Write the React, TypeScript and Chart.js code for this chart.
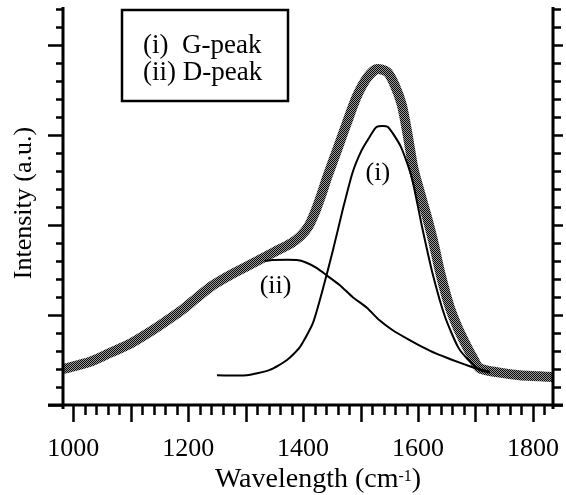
import React, { useEffect, useRef } from 'react';
import { Chart, registerables } from 'chart.js';

Chart.register(...registerables);

// Measured spectrum (thick stippled band)
const MEASURED_X = [982, 1029, 1064, 1099, 1133, 1159, 1186, 1215, 1243, 1272, 1302, 1347, 1380, 1396, 1409, 1420, 1431, 1443, 1459, 1476, 1493, 1511, 1528, 1546, 1559, 1572, 1582, 1592, 1603, 1615, 1626, 1639, 1655, 1669, 1681, 1695, 1707, 1742, 1777, 1812, 1834];
const MEASURED_Y = [0.40, 0.48, 0.58, 0.68, 0.81, 0.92, 1.04, 1.19, 1.33, 1.44, 1.54, 1.69, 1.80, 1.88, 1.98, 2.13, 2.32, 2.55, 2.83, 3.13, 3.42, 3.63, 3.73, 3.70, 3.56, 3.33, 3.00, 2.63, 2.37, 2.10, 1.83, 1.46, 1.09, 0.86, 0.70, 0.53, 0.41, 0.36, 0.33, 0.32, 0.31];

// (i) G-peak fit
const G_PEAK_X = [1250, 1302, 1342, 1372, 1394, 1417, 1434, 1452, 1469, 1486, 1502, 1516, 1528, 1547, 1570, 1589, 1607, 1625, 1647, 1670, 1692, 1708, 1725];
const G_PEAK_Y = [0.33, 0.33, 0.39, 0.50, 0.64, 0.91, 1.28, 1.72, 2.17, 2.58, 2.83, 2.98, 3.09, 3.09, 2.87, 2.53, 1.98, 1.47, 0.98, 0.64, 0.47, 0.39, 0.36];

// (ii) D-peak fit
const D_PEAK_X = [1333, 1347, 1389, 1406, 1424, 1441, 1464, 1486, 1511, 1533, 1556, 1580, 1603, 1632, 1660, 1690, 1704, 1725];
const D_PEAK_Y = [1.60, 1.61, 1.61, 1.58, 1.52, 1.44, 1.33, 1.20, 1.08, 0.94, 0.83, 0.74, 0.66, 0.57, 0.50, 0.43, 0.40, 0.37];

const X_TICK_LABELS = [1000, 1200, 1400, 1600, 1800];
const X_MIN = 982;
const X_MAX = 1835;
const Y_MIN = 0;
const Y_MAX = 4.42;

const LEGEND_LINES = ['(i)  G-peak', '(ii) D-peak'];
const X_TITLE_MAIN = 'Wavelength (cm';
const X_TITLE_SUP = '-1';
const X_TITLE_END = ')';
const Y_TITLE = 'Intensity (a.u.)';
const PEAK_LABEL_TEXT = ['(i)', '(ii)'];
const PEAK_LABEL_X = [1530, 1352];
const PEAK_LABEL_Y = [2.58, 1.32];

const FONT = '"Liberation Serif", "Times New Roman", serif';

const toPoints = (xs: number[], ys: number[]) => xs.map((x, i) => ({ x, y: ys[i] }));

const framePlugin = {
  id: 'frame',
  afterDraw(chart: any) {
    const { ctx, chartArea: ca, scales } = chart;
    const x = scales.x;
    const y = scales.y;
    ctx.save();
    ctx.strokeStyle = '#000';
    ctx.fillStyle = '#000';
    ctx.lineCap = 'butt';

    // x ticks
    ctx.lineWidth = 2.5;
    ctx.beginPath();
    for (let v = 1000; v <= 1820; v += 20) {
      const px = Math.round(x.getPixelForValue(v)) + 0.5;
      const len = v % 100 === 0 ? 17 : 10;
      ctx.moveTo(px, ca.bottom);
      ctx.lineTo(px, ca.bottom + len);
    }
    ctx.stroke();

    // y ticks (left outward, right outward)
    ctx.beginPath();
    for (let i = 0; i <= 22; i++) {
      const v = i * 0.2;
      const py = Math.round(y.getPixelForValue(v)) + 0.5;
      const major = i % 5 === 0;
      ctx.moveTo(ca.left - (major ? 15 : 7), py);
      ctx.lineTo(ca.left, py);
      ctx.moveTo(ca.right, py);
      ctx.lineTo(ca.right + (major ? 10 : 8), py);
    }
    ctx.stroke();

    // axis lines
    ctx.lineWidth = 3;
    ctx.beginPath();
    ctx.moveTo(ca.left, ca.top);
    ctx.lineTo(ca.left, ca.bottom + 4);
    ctx.moveTo(ca.right, ca.top);
    ctx.lineTo(ca.right, ca.bottom + 4);
    ctx.moveTo(ca.left - 15, ca.bottom);
    ctx.lineTo(ca.right + 10, ca.bottom);
    ctx.stroke();

    // legend box
    ctx.lineWidth = 2.5;
    ctx.strokeRect(122, 10, 166, 91);
    ctx.font = `27px ${FONT}`;
    ctx.textAlign = 'left';
    ctx.textBaseline = 'alphabetic';
    ctx.fillText(LEGEND_LINES[0], 143, 53);
    ctx.fillText(LEGEND_LINES[1], 143, 80);

    // peak labels
    ctx.font = `26px ${FONT}`;
    ctx.textAlign = 'center';
    ctx.textBaseline = 'middle';
    for (let i = 0; i < PEAK_LABEL_TEXT.length; i++) {
      ctx.fillText(PEAK_LABEL_TEXT[i], x.getPixelForValue(PEAK_LABEL_X[i]), y.getPixelForValue(PEAK_LABEL_Y[i]));
    }

    // x title with superscript
    ctx.textAlign = 'left';
    ctx.textBaseline = 'alphabetic';
    ctx.font = `28px ${FONT}`;
    const w1 = ctx.measureText(X_TITLE_MAIN).width;
    const w3 = ctx.measureText(X_TITLE_END).width;
    ctx.font = `16px ${FONT}`;
    const w2 = ctx.measureText(X_TITLE_SUP).width;
    const total = w1 + w2 + w3;
    const sx = 318 - total / 2;
    ctx.font = `28px ${FONT}`;
    ctx.fillText(X_TITLE_MAIN, sx, 487);
    ctx.fillText(X_TITLE_END, sx + w1 + w2, 487);
    ctx.font = `16px ${FONT}`;
    ctx.fillText(X_TITLE_SUP, sx + w1, 481);

    // y title
    ctx.save();
    ctx.translate(31, 203);
    ctx.rotate(-Math.PI / 2);
    ctx.font = `26px ${FONT}`;
    ctx.textAlign = 'center';
    ctx.textBaseline = 'alphabetic';
    ctx.fillText(Y_TITLE, 0, 0);
    ctx.restore();

    ctx.restore();
  },
};

export default function App() {
  const canvasRef = useRef<HTMLCanvasElement | null>(null);

  useEffect(() => {
    const canvas = canvasRef.current;
    if (!canvas) return;

    // stipple pattern for measured band
    const pc = document.createElement('canvas');
    pc.width = 2;
    pc.height = 2;
    const pctx = pc.getContext('2d')!;
    pctx.fillStyle = '#9a9a9a';
    pctx.fillRect(0, 0, 2, 2);
    pctx.fillStyle = '#0a0a0a';
    pctx.fillRect(0, 0, 1, 1);
    pctx.fillRect(1, 1, 1, 1);
    const pattern = canvas.getContext('2d')!.createPattern(pc, 'repeat');

    const chart = new Chart(canvas, {
      type: 'line',
      data: {
        datasets: [
          {
            label: 'Measured',
            data: toPoints(MEASURED_X, MEASURED_Y),
            borderColor: pattern as any,
            borderWidth: 10,
            pointRadius: 0,
            tension: 0.25,
            borderJoinStyle: 'round',
            order: 3,
          },
          {
            label: 'G-peak',
            data: toPoints(G_PEAK_X, G_PEAK_Y),
            borderColor: '#000',
            borderWidth: 2,
            pointRadius: 0,
            tension: 0.2,
            order: 1,
          },
          {
            label: 'D-peak',
            data: toPoints(D_PEAK_X, D_PEAK_Y),
            borderColor: '#000',
            borderWidth: 2,
            pointRadius: 0,
            tension: 0.2,
            order: 2,
          },
        ],
      },
      options: {
        responsive: false,
        animation: false,
        devicePixelRatio: 1,
        layout: { padding: { left: 0, top: 7, right: 13, bottom: 0 } },
        plugins: {
          legend: { display: false },
          tooltip: { enabled: false },
          title: { display: false },
        },
        scales: {
          x: {
            type: 'linear',
            position: 'bottom',
            min: X_MIN,
            max: X_MAX,
            grid: { display: false, drawTicks: false },
            border: { display: false },
            afterBuildTicks: (scale: any) => {
              scale.ticks = X_TICK_LABELS.map((v) => ({ value: v }));
            },
            afterFit: (scale: any) => {
              scale.height = 90;
              scale.paddingLeft = 0;
              scale.paddingRight = 0;
            },
            ticks: {
              autoSkip: false,
              maxRotation: 0,
              minRotation: 0,
              padding: 29,
              color: '#000',
              font: { family: FONT, size: 26 },
              callback: (v: any) => String(v),
            },
          },
          y: {
            type: 'linear',
            min: Y_MIN,
            max: Y_MAX,
            grid: { display: false, drawTicks: false },
            border: { display: false },
            ticks: { display: false },
            afterFit: (scale: any) => {
              scale.width = 63;
              scale.paddingTop = 0;
              scale.paddingBottom = 0;
            },
          },
        },
      },
      plugins: [framePlugin],
    });

    return () => chart.destroy();
  }, []);

  return (
    <div style={{ position: 'absolute', left: 0, top: 0, width: 566, height: 495, background: '#fff' }}>
      <canvas ref={canvasRef} width={566} height={495} />
    </div>
  );
}
